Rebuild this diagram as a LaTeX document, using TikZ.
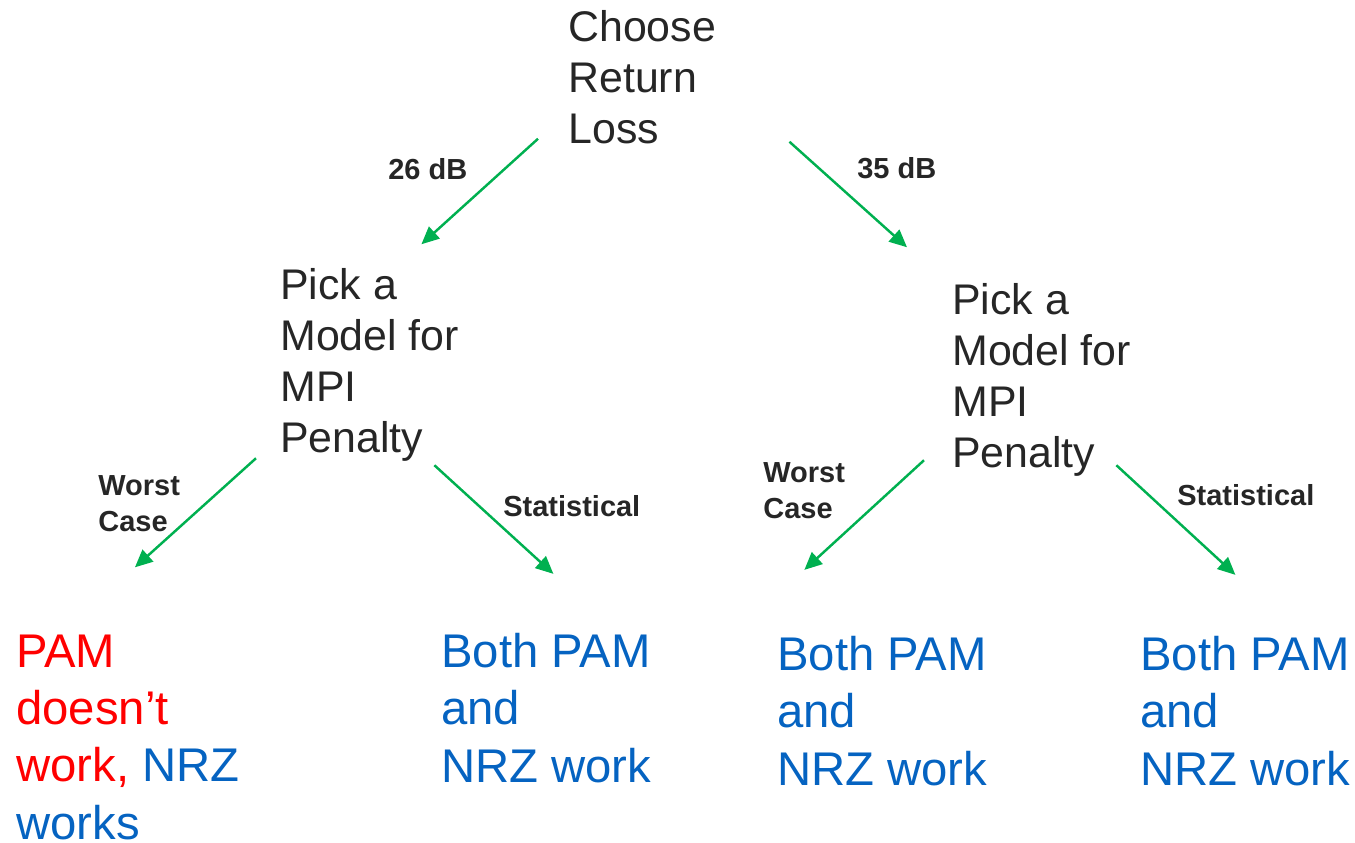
\documentclass[tikz,border=0pt]{standalone}
\usepackage{fontspec}
\setmainfont{Liberation Sans}
\usetikzlibrary{arrows.meta}

\definecolor{inkgray}{RGB}{38,38,38}
\definecolor{arrowgreen}{RGB}{0,176,80}
\definecolor{pamred}{RGB}{255,0,0}
\definecolor{nrzblue}{RGB}{5,99,193}

\begin{document}
\begin{tikzpicture}[x=0.02cm, y=-0.02cm,
  choice/.style={anchor=base west, inner sep=0pt, align=left, text=inkgray,
    font=\fontsize{24.4pt}{28.9pt}\selectfont},
  tag/.style={anchor=base west, inner sep=0pt, align=left, text=inkgray,
    font=\bfseries\fontsize{16.5pt}{20.4pt}\selectfont},
  result/.style={anchor=base west, inner sep=0pt, align=left, text=nrzblue,
    font=\fontsize{26.9pt}{32.6pt}\selectfont},
  flow/.style={draw=arrowgreen, line width=1.4pt,
    -{Triangle[length=10pt, width=9pt]}}]

\useasboundingbox (0,0) rectangle (1355,842);

% Decision nodes (placed by the baseline of their last line)
\node[choice] (root) at (568,143) {Choose\\Return\\Loss};
\node[choice] (pickL) at (280,452) {Pick a\\Model for\\MPI\\Penalty};
\node[choice] (pickR) at (952,467) {Pick a\\Model for\\MPI\\Penalty};

% Outcomes
\node[result] (outLL) at (16,839)
  {\textcolor{pamred}{PAM}\\\textcolor{pamred}{doesn’t}\\\textcolor{pamred}{work,} NRZ\\works};
\node[result] (outLR) at (441,782) {Both PAM\\and\\NRZ work};
\node[result] (outRL) at (777,785) {Both PAM\\and\\NRZ work};
\node[result] (outRR) at (1140,785) {Both PAM\\and\\NRZ work};

% Branches
\draw[flow] ([shift={(-30,-5)}]root.south west) -- ([shift={(-38,-24)}]pickL.north east);
\draw[flow] ([shift={(73,-2)}]root.south east) -- ([shift={(-45,-36)}]pickR.north west);
\draw[flow] ([shift={(-24,-3)}]pickL.south west) -- ([shift={(7,-67)}]outLL.north);
\draw[flow] ([shift={(-25,4)}]pickL.south east) -- ([shift={(7,-59)}]outLR.north);
\draw[flow] ([shift={(-28,-16)}]pickR.south west) -- ([shift={(-78,-66)}]outRL.north);
\draw[flow] ([shift={(-15,-11)}]pickR.south east) -- ([shift={(-10,-61)}]outRR.north);

% Branch labels
\node[tag] (dbL) at (388,179) {26 dB};
\node[tag] (dbR) at (857,178) {35 dB};
\node[tag] (worstL) at (98,531) {Worst\\Case};
\node[tag] (statL) at (503,516) {Statistical};
\node[tag] (worstR) at (763,518) {Worst\\Case};
\node[tag] (statR) at (1177,505) {Statistical};

\end{tikzpicture}
\end{document}
